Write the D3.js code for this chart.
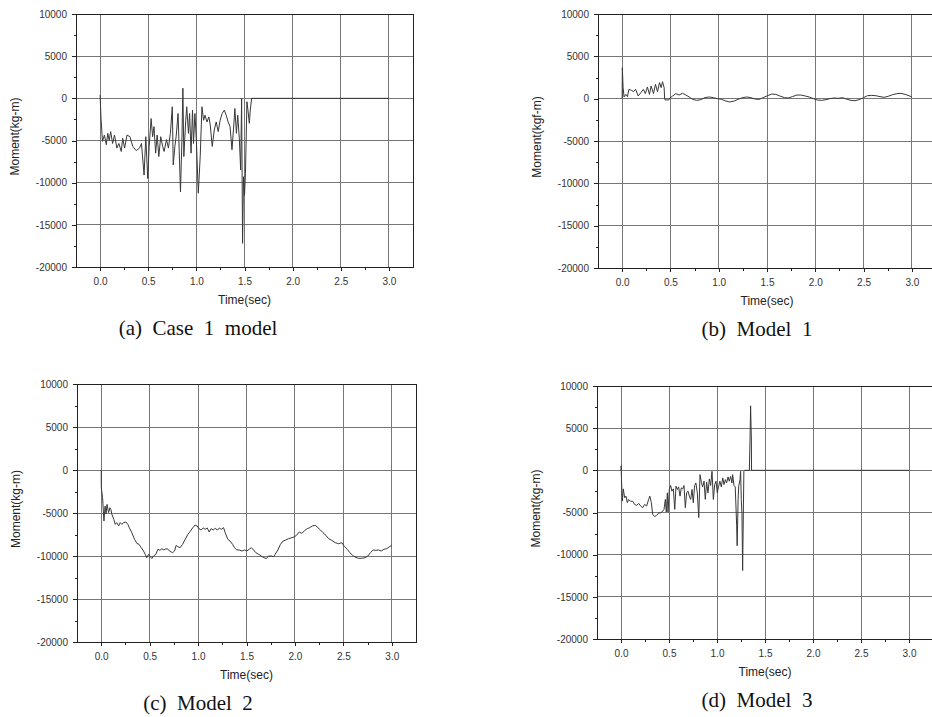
<!DOCTYPE html>
<html>
<head>
<meta charset="utf-8">
<script src="https://cdn.jsdelivr.net/npm/d3@7"></script>
<style>
body { margin: 0; background: #fff; }
.tick text { font-family: "Liberation Sans", Arial, sans-serif; font-size: 10px; fill: #333; }
</style>
</head>
<body>
<script>
// values, [time (sec), moment]
var seriesA = [
  [0, 400], [0.005, -1000], [0.01, -2400], [0.025, -5100], [0.045, -4350], [0.065, -5500],
  [0.08, -4150], [0.095, -5000], [0.11, -3950], [0.13, -5350], [0.15, -4350], [0.175, -5900],
  [0.195, -5350], [0.22, -6300], [0.235, -4750], [0.255, -5900], [0.28, -4350], [0.31, -4550],
  [0.34, -5700], [0.375, -6200], [0.41, -5900], [0.43, -5350], [0.457, -9100], [0.475, -4550],
  [0.495, -9500], [0.51, -5700], [0.53, -2400], [0.546, -4550], [0.56, -3350], [0.577, -6500],
  [0.593, -4350], [0.61, -6900], [0.63, -4550], [0.65, -5700], [0.665, -6300], [0.69, -4900],
  [0.71, -5900], [0.73, -4150], [0.75, -1000], [0.76, -7900], [0.777, -5700], [0.79, -4550],
  [0.81, -1800], [0.835, -11100], [0.85, -4950], [0.86, 1200], [0.87, -6900], [0.89, -2600],
  [0.9, -1000], [0.918, -4150], [0.93, -1800], [0.945, -6500], [0.96, -1400], [0.97, -5350],
  [0.985, -1800], [1.0, -4950], [1.02, -11250], [1.04, -6900], [1.058, -1000], [1.075, -2600],
  [1.09, -2000], [1.11, -2800], [1.13, -2200], [1.144, -3150], [1.165, -5700], [1.186, -3750],
  [1.206, -2800], [1.227, -3950], [1.247, -2600], [1.268, -1800], [1.29, -1400], [1.31, -2000],
  [1.33, -2800], [1.35, -3350], [1.37, -6100], [1.39, -2950], [1.4, -1200], [1.416, -4150],
  [1.43, -2000], [1.447, -4950], [1.46, -8500], [1.47, 0], [1.48, -17200], [1.49, -9300],
  [1.5, -11500], [1.51, -8900], [1.525, -400], [1.536, -1400], [1.55, -2950], [1.56, -1400],
  [1.574, 0], [3.0, 0]
];

var seriesB = [
  [0, 0], [0.002, 3660], [0.01, 1300], [0.02, 200], [0.038, 500], [0.055, 240], [0.07, 1100],
  [0.097, 980], [0.117, 830], [0.14, 1100], [0.166, 320], [0.193, 700], [0.22, 1100], [0.24, 600],
  [0.262, 1380], [0.283, 510], [0.3, 1500], [0.325, 600], [0.345, 1700], [0.366, 830], [0.387, 1900],
  [0.404, 1300], [0.418, 2000], [0.435, 1300], [0.44, 0], [0.445, -150], [0.483, -150], [0.49, 0],
  [0.52, 300], [0.556, 590], [0.59, 430], [0.625, 630], [0.66, 430], [0.694, 200], [0.73, -80],
  [0.77, -200], [0.815, -120], [0.856, 120], [0.9, 200], [0.946, 120], [0.987, 0], [1.03, -80],
  [1.074, -280], [1.115, -390], [1.16, -280], [1.2, -80], [1.246, 120], [1.29, 200], [1.333, 120],
  [1.374, -40], [1.42, -80], [1.46, 120], [1.505, 350], [1.55, 550], [1.59, 510], [1.633, 320],
  [1.68, 120], [1.72, 80], [1.764, 240], [1.81, 430], [1.85, 430], [1.895, 320], [1.937, 200],
  [1.98, 0], [2.023, -160], [2.065, -200], [2.11, -120], [2.15, 0], [2.196, 80], [2.238, 40],
  [2.283, 120], [2.32, -40], [2.37, -200], [2.41, -240], [2.455, -120], [2.5, 120], [2.54, 350],
  [2.58, 390], [2.627, 350], [2.67, 240], [2.714, 160], [2.755, 280], [2.8, 470], [2.845, 590],
  [2.887, 630], [2.93, 510], [2.97, 350], [3.0, 200]
];

var seriesC = [
  [0, 0], [0.001, -2050], [0.014, -3200], [0.028, -5930], [0.04, -4200], [0.05, -5100], [0.06, -4000],
  [0.076, -4960], [0.09, -4380], [0.1, -4600], [0.11, -5150], [0.13, -5740], [0.145, -6320],
  [0.16, -6120], [0.18, -6500], [0.196, -6120], [0.213, -6320], [0.23, -6120], [0.255, -6050],
  [0.275, -6320], [0.29, -6700], [0.316, -7290], [0.344, -8060], [0.368, -8530], [0.39, -8640],
  [0.413, -9030], [0.437, -9420], [0.454, -9800], [0.471, -10200], [0.489, -9800], [0.506, -10080],
  [0.523, -10300], [0.54, -10000], [0.564, -9800], [0.585, -9220], [0.606, -9340], [0.626, -9150],
  [0.647, -9300], [0.668, -9150], [0.688, -9220], [0.712, -9460], [0.736, -9610], [0.757, -9420],
  [0.774, -8760], [0.79, -8910], [0.815, -9030], [0.84, -8640], [0.867, -8060], [0.895, -7480],
  [0.922, -7090], [0.946, -6700], [0.97, -6400], [0.99, -6510], [1.01, -6820], [1.03, -6980],
  [1.053, -6740], [1.074, -6900], [1.094, -6740], [1.115, -7210], [1.135, -6820], [1.156, -6980],
  [1.177, -6780], [1.2, -6980], [1.22, -6740], [1.24, -6900], [1.263, -6700], [1.28, -7290],
  [1.307, -8060], [1.33, -8260], [1.356, -8640], [1.376, -9030], [1.4, -9300], [1.425, -9300],
  [1.452, -9420], [1.48, -9300], [1.504, -9420], [1.528, -9220], [1.55, -9030], [1.573, -9300],
  [1.596, -9610], [1.624, -9800], [1.651, -10000], [1.68, -10200], [1.706, -10300], [1.727, -10000],
  [1.755, -10000], [1.78, -10080], [1.796, -9800], [1.824, -9300], [1.851, -8640], [1.878, -8260],
  [1.906, -8140], [1.934, -7980], [1.96, -7900], [1.99, -7790], [2.016, -7600], [2.044, -7210],
  [2.07, -7360], [2.1, -7050], [2.127, -6820], [2.154, -6700], [2.18, -6510], [2.21, -6430],
  [2.237, -6700], [2.264, -6980], [2.29, -7290], [2.32, -7600], [2.347, -7980], [2.38, -8180],
  [2.416, -8450], [2.45, -8570], [2.485, -8450], [2.512, -8910], [2.54, -9220], [2.567, -9610],
  [2.595, -9920], [2.62, -10120], [2.656, -10270], [2.69, -10270], [2.725, -10200], [2.753, -10000],
  [2.78, -9610], [2.808, -9300], [2.835, -9340], [2.863, -9300], [2.89, -9420], [2.918, -9220],
  [2.946, -9150], [2.973, -8950], [3.0, -8760]
];

var seriesD = [
  [0, 0], [0.002, 550], [0.005, -1100], [0.014, -3650], [0.024, -2200], [0.038, -3250], [0.052, -3060],
  [0.066, -3840], [0.08, -3450], [0.1, -3680], [0.12, -3650], [0.142, -4040], [0.163, -4150],
  [0.184, -3920], [0.205, -4230], [0.226, -4430], [0.246, -4040], [0.267, -4230], [0.288, -3450],
  [0.3, -3060], [0.316, -3840], [0.33, -5210], [0.35, -5490], [0.37, -5330], [0.392, -5100],
  [0.413, -5020], [0.434, -4860], [0.448, -4630], [0.462, -3450], [0.472, -4940], [0.483, -2670],
  [0.49, -4940], [0.503, -2270], [0.517, -1800], [0.53, -2470], [0.545, -2200], [0.56, -4630],
  [0.573, -1880], [0.587, -2270], [0.6, -1960], [0.615, -3060], [0.628, -2080], [0.642, -2200],
  [0.656, -1800], [0.67, -4430], [0.684, -2670], [0.698, -2470], [0.712, -3060], [0.726, -3450],
  [0.74, -2270], [0.753, -3840], [0.767, -1800], [0.78, -1490], [0.795, -2670], [0.81, -5600],
  [0.823, -510], [0.837, -1410], [0.85, -1960], [0.865, -1290], [0.878, -3450], [0.892, -1410],
  [0.906, -2670], [0.92, -1020], [0.934, -1800], [0.948, -120], [0.962, -3450], [0.976, -1690],
  [0.99, -1290], [1.003, -2670], [1.017, -1880], [1.03, -1290], [1.045, -1960], [1.06, -900],
  [1.073, -1690], [1.087, -1100], [1.1, -1490], [1.115, -780], [1.128, -1290], [1.142, -710],
  [1.156, -1490], [1.163, -510], [1.177, -1800], [1.19, -1960], [1.205, -6590], [1.21, -8940],
  [1.22, -3450], [1.226, -1880], [1.24, -1100], [1.246, -120], [1.253, -3450], [1.26, -5210],
  [1.267, -11880], [1.274, -5410], [1.28, -120], [1.288, 0], [1.337, 0], [1.344, 3600],
  [1.35, 7650], [1.358, 3600], [1.36, 0], [3.0, 0]
];

var allSeries = [seriesA, seriesB, seriesC, seriesD];
var captions = ['(a)  Case  1  model', '(b)  Model  1', '(c)  Model  2', '(d)  Model  3'];
var yTitles = ['Moment(kg-m)', 'Moment(kgf-m)', 'Moment(kg-m)', 'Moment(kg-m)'];
var xTitle = 'Time(sec)';
var xTicks = [0, 0.5, 1, 1.5, 2, 2.5, 3];
var xMinor = [0.25, 0.75, 1.25, 1.75, 2.25, 2.75];
var yTicks = [10000, 5000, 0, -5000, -10000, -15000, -20000];
var yMinor = [7500, 2500, -2500, -7500, -12500, -17500];

// where each plot box sits on the page
var layout = [
  { left: 76, top: 14, width: 337, height: 253, capX: 198 },
  { left: 598, top: 14, width: 338, height: 254, capX: 757 },
  { left: 77, top: 384, width: 339, height: 258, capX: 198 },
  { left: 597, top: 386, width: 336, height: 253, capX: 757 }
];

var svg = d3.select('body')
  .append('svg')
  .attr('width', 932)
  .attr('height', 717);

var defs = svg.append('defs');

layout.forEach(function (L, i) {
  var g = svg.append('g').attr('transform', 'translate(' + L.left + ',' + L.top + ')');

  var x = d3.scaleLinear().domain([-0.25, 3.25]).range([0, L.width]);
  var y = d3.scaleLinear().domain([-20000, 10000]).range([L.height, 0]);

  // grid
  g.selectAll('line.vgrid')
    .data(xTicks)
    .enter()
    .append('line')
    .attr('class', 'vgrid')
    .attr('x1', function (d) { return x(d); })
    .attr('x2', function (d) { return x(d); })
    .attr('y1', 0)
    .attr('y2', L.height)
    .attr('stroke', '#777')
    .attr('shape-rendering', 'crispEdges');

  g.selectAll('line.hgrid')
    .data(yTicks.slice(1, -1))
    .enter()
    .append('line')
    .attr('class', 'hgrid')
    .attr('x1', 0)
    .attr('x2', L.width)
    .attr('y1', function (d) { return y(d); })
    .attr('y2', function (d) { return y(d); })
    .attr('stroke', '#777')
    .attr('shape-rendering', 'crispEdges');

  // the curve
  defs.append('clipPath')
    .attr('id', 'clip' + i)
    .append('rect')
    .attr('width', L.width)
    .attr('height', L.height);

  var line = d3.line()
    .x(function (d) { return x(d[0]); })
    .y(function (d) { return y(d[1]); });

  g.append('path')
    .datum(allSeries[i])
    .attr('clip-path', 'url(#clip' + i + ')')
    .attr('d', line)
    .attr('fill', 'none')
    .attr('stroke', '#383838')
    .attr('stroke-width', 1);

  // frame
  g.append('rect')
    .attr('width', L.width)
    .attr('height', L.height)
    .attr('fill', 'none')
    .attr('stroke', '#222')
    .attr('shape-rendering', 'crispEdges');

  // axes
  g.append('g')
    .attr('transform', 'translate(0,' + L.height + ')')
    .attr('color', '#222')
    .call(d3.axisBottom(x).tickValues(xTicks).tickFormat(d3.format('.1f'))
      .tickSize(4).tickSizeOuter(0).tickPadding(6.5));
  g.append('g')
    .attr('transform', 'translate(0,' + L.height + ')')
    .attr('color', '#222')
    .call(d3.axisBottom(x).tickValues(xMinor).tickFormat('').tickSize(2.5).tickSizeOuter(0))
    .call(function (s) { s.select('.domain').remove(); });

  g.append('g')
    .attr('color', '#222')
    .call(d3.axisLeft(y).tickValues(yTicks).tickFormat(function (d) { return String(d); })
      .tickSize(4).tickSizeOuter(0).tickPadding(5));
  g.append('g')
    .attr('color', '#222')
    .call(d3.axisLeft(y).tickValues(yMinor).tickFormat('').tickSize(2.5).tickSizeOuter(0))
    .call(function (s) { s.select('.domain').remove(); });

  g.selectAll('.domain, .tick line').attr('shape-rendering', 'crispEdges');

  // titles
  g.append('text')
    .attr('x', L.width / 2)
    .attr('y', L.height + 37)
    .attr('text-anchor', 'middle')
    .attr('font-family', '"Liberation Sans", Arial, sans-serif')
    .attr('font-size', 12)
    .attr('fill', '#222')
    .text(xTitle);

  g.append('text')
    .attr('transform', 'translate(-61,' + (L.height / 2 - 4) + ') rotate(-90)')
    .attr('text-anchor', 'middle')
    .attr('dy', '0.35em')
    .attr('font-family', '"Liberation Sans", Arial, sans-serif')
    .attr('font-size', 12)
    .attr('fill', '#222')
    .text(yTitles[i]);

  g.append('text')
    .attr('x', L.capX - L.left)
    .attr('y', L.height + 68)
    .attr('text-anchor', 'middle')
    .style('white-space', 'pre')
    .attr('font-family', '"Liberation Serif", "Times New Roman", serif')
    .attr('font-size', 21)
    .attr('fill', '#111')
    .text(captions[i]);
});
</script>
</body>
</html>
